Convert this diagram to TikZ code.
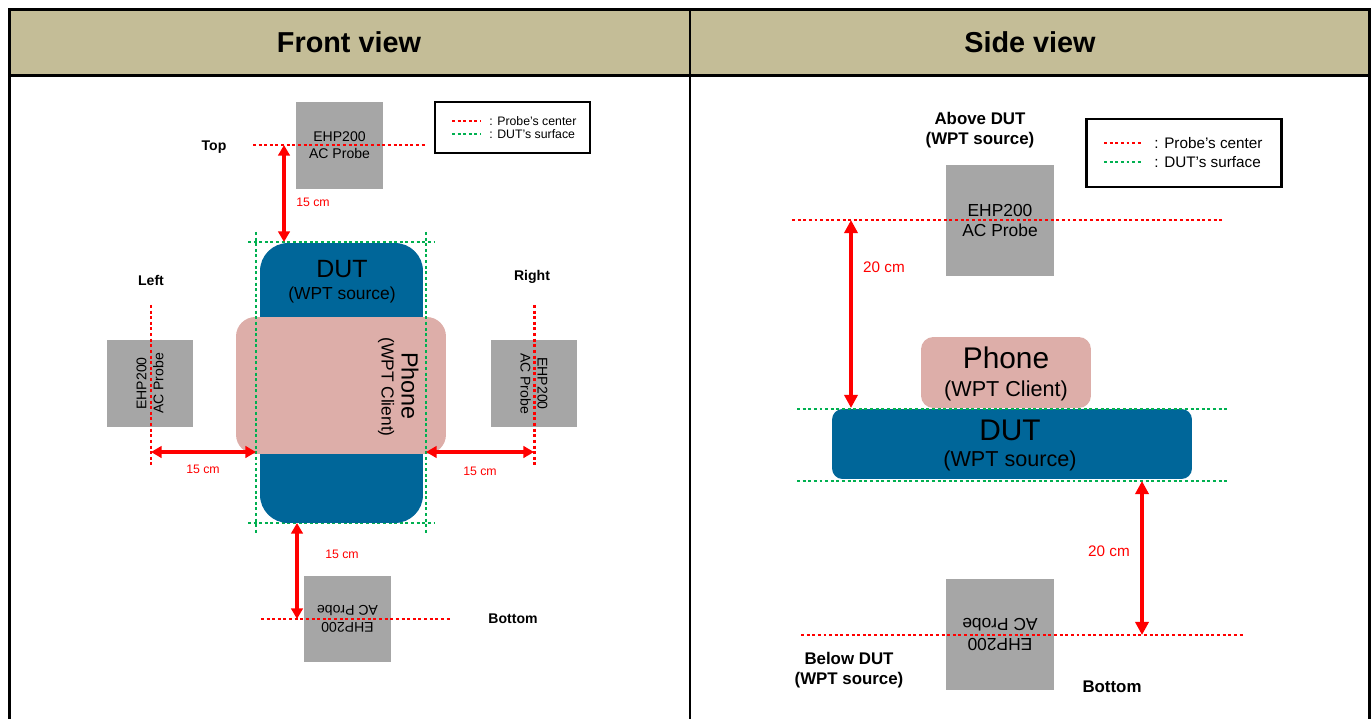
\documentclass[tikz,border=0pt]{standalone}
\usepackage{fontspec}
\setmainfont{Liberation Sans}
\usetikzlibrary{arrows.meta}
\definecolor{headtan}{RGB}{196,189,151}
\definecolor{dutblue}{RGB}{0,102,153}
\definecolor{phonepink}{RGB}{221,174,169}
\definecolor{probegray}{RGB}{166,166,166}
\definecolor{surfgreen}{RGB}{0,176,80}
\tikzset{
  headtext/.style={font=\fontsize{16.4}{19}\selectfont\bfseries},
  redline/.style={red, line width=1.7pt, dash pattern=on 1.7pt off 1.5pt},
  greenline/.style={surfgreen, line width=1.7pt, dash pattern=on 1.7pt off 1.5pt},
  fprobe/.style={fill=probegray, inner sep=0pt, minimum width=1.74cm, minimum height=1.74cm,
    align=center, font=\fontsize{8}{9.6}\selectfont},
  sprobe/.style={fill=probegray, inner sep=0pt, minimum width=2.16cm, minimum height=2.22cm,
    align=center, font=\fontsize{9.9}{11.9}\selectfont},
  fdist/.style={red, line width=2pt, {Triangle[length=6pt,width=6.5pt]}-{Triangle[length=6pt,width=6.5pt]}},
  sdist/.style={red, line width=2pt, {Triangle[length=7.5pt,width=7.5pt]}-{Triangle[length=7.5pt,width=7.5pt]}},
  flbl/.style={font=\fontsize{8}{9.6}\selectfont\bfseries},
  slbl/.style={font=\fontsize{9.6}{11.6}\selectfont\bfseries, align=center},
  fcm/.style={red, font=\fontsize{7}{8.4}\selectfont},
  scm/.style={red, font=\fontsize{8.7}{10.4}\selectfont},
  fleg/.style={anchor=west, inner sep=0pt, font=\fontsize{7}{8.4}\selectfont},
  sleg/.style={anchor=west, inner sep=0pt, font=\fontsize{8.7}{10.4}\selectfont},
  dutbox/.style={fill=dutblue, inner sep=0pt},
  phonebox/.style={fill=phonepink, inner sep=0pt},
  bigname/.style={inner sep=0pt},
}
\begin{document}
\begin{tikzpicture}[x=0.02cm,y=-0.02cm]
\useasboundingbox (0,0) rectangle (1372,719);
% table
\fill[headtan] (9.5,9.5) rectangle (1369.5,75.5);
\draw[line width=1.5pt] (9.5,719) -- (9.5,9.5) -- (1369.5,9.5) -- (1369.5,719);
\draw[line width=1.5pt] (9.5,75.5) -- (1369.5,75.5) (690,9.5) -- (690,719);
\node[headtext] (fronthead) at (349,42) {Front view};
\node[headtext] (sidehead) at (1030,42) {Side view};

% front view
\draw[greenline] (248,242) -- (435,242) (248,523) -- (435,523);
\node[dutbox, minimum width=3.26cm, minimum height=5.6cm, rounded corners=16pt] (fdut) at (341.5,383) {};
\node[phonebox, minimum width=4.2cm, minimum height=2.74cm, rounded corners=11pt] (fphone) at (341,385.5) {};
\draw[greenline] (256,232) -- (256,535) (426,232) -- (426,535);
\node[bigname, font=\fontsize{14.2}{17}\selectfont] (fduttxt) at (342,269) {DUT};
\node[bigname, font=\fontsize{9.9}{12}\selectfont] (fdutsub) at (342,295) {(WPT source)};
\node[bigname, rotate=-90, font=\fontsize{13.3}{16}\selectfont] (fphonetxt) at (410,386) {Phone};
\node[bigname, rotate=-90, font=\fontsize{9.9}{12}\selectfont] (fphonesub) at (386,387) {(WPT Client)};

\node[fprobe] (ftopprobe) at (339.5,145.5) {EHP200\\AC Probe};
\node[fprobe, rotate=90] (fleftprobe) at (150,383.5) {EHP200\\AC Probe};
\node[fprobe, rotate=-90] (frightprobe) at (534,383.5) {EHP200\\AC Probe};
\node[fprobe, rotate=180] (fbotprobe) at (347.5,619) {EHP200\\AC Probe};

\draw[redline] (253,145) -- (427,145);
\draw[redline] (151,305) -- (151,468);
\draw[redline] (534,305) -- (534,468);
\draw[redline] (261,619) -- (452,619);

\coordinate (ftopa) at (284,145); \coordinate (ftopb) at (284,242);
\coordinate (flefta) at (151,452); \coordinate (fleftb) at (256,452);
\coordinate (frighta) at (426,452); \coordinate (frightb) at (534,452);
\coordinate (fbota) at (297,523); \coordinate (fbotb) at (297,619);
\draw[fdist] (ftopa) -- (ftopb);
\draw[fdist] (flefta) -- (fleftb);
\draw[fdist] (frighta) -- (frightb);
\draw[fdist] (fbota) -- (fbotb);

\node[flbl] (ftoplbl) at (214,147) {Top};
\node[flbl] (fleftlbl) at (151,280) {Left};
\node[flbl] (frightlbl) at (532,277) {Right};
\node[flbl] (fbotlbl) at (513,619) {Bottom};
\node[fcm] (ftopcm) at (313,202) {15 cm};
\node[fcm] (fleftcm) at (203,469) {15 cm};
\node[fcm] (frightcm) at (480,471) {15 cm};
\node[fcm] (fbotcm) at (342,554) {15 cm};

\draw[line width=1.2pt] (435,102) rectangle (590,153);
\draw[redline] (452,121) -- (481,121);
\node[fleg] (flegred) at (489,121) {: Probe’s center};
\draw[greenline] (452,134) -- (481,134);
\node[fleg] (fleggreen) at (489,134) {: DUT’s surface};

% side view
\node[slbl] (sabove) at (980,130) {Above DUT\\(WPT source)};
\draw[line width=1.7pt] (1086,119) rectangle (1281,187);
\draw[redline] (1104,143) -- (1142,143);
\node[sleg] (slegred) at (1154,143) {: Probe’s center};
\draw[greenline] (1104,162) -- (1142,162);
\node[sleg] (sleggreen) at (1154,162) {: DUT’s surface};

\node[sprobe] (stopprobe) at (1000,220.5) {EHP200\\AC Probe};
\node[sprobe, rotate=180] (sbotprobe) at (1000,634.5) {EHP200\\AC Probe};
\draw[redline] (792,220) -- (1223,220);
\draw[redline] (801,635) -- (1244,635);

\node[phonebox, minimum width=3.4cm, minimum height=1.42cm, rounded corners=7pt] (sphone) at (1006,372.5) {};
\node[bigname, font=\fontsize{17}{20}\selectfont] (sphonetxt) at (1006,358) {Phone};
\node[bigname, font=\fontsize{12.3}{14.8}\selectfont] (sphonesub) at (1006,391) {(WPT Client)};
\node[dutbox, minimum width=7.2cm, minimum height=1.4cm, rounded corners=6pt] (sdut) at (1012,444) {};
\node[bigname, font=\fontsize{17}{20}\selectfont] (sduttxt) at (1010,430) {DUT};
\node[bigname, font=\fontsize{12.3}{14.8}\selectfont] (sdutsub) at (1010,461) {(WPT source)};
\draw[greenline] (797,409) -- (1227,409) (797,481) -- (1227,481);

\coordinate (stopa) at (851,220); \coordinate (stopb) at (851,408);
\coordinate (sbota) at (1142,481); \coordinate (sbotb) at (1142,635);
\draw[sdist] (stopa) -- (stopb);
\draw[sdist] (sbota) -- (sbotb);
\node[scm] (stopcm) at (884,267) {20 cm};
\node[scm] (sbotcm) at (1109,551) {20 cm};

\node[slbl] (sbelow) at (849,670) {Below DUT\\(WPT source)};
\node[slbl] (sbotlbl) at (1112,687) {Bottom};
\end{tikzpicture}
\end{document}
